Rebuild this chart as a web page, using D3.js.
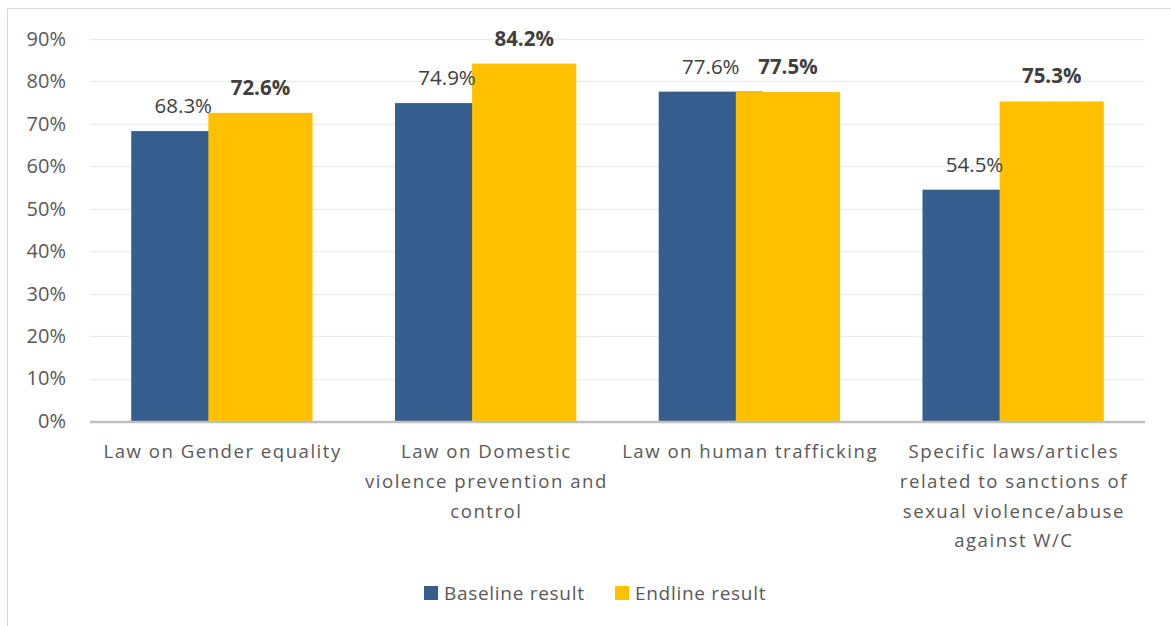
<!DOCTYPE html>
<html>
<head>
<meta charset="utf-8">
<script src="https://cdn.jsdelivr.net/npm/d3@7"></script>
<style>
  html, body { margin: 0; padding: 0; background: #fff; }
  svg { display: block; font-family: "Open Sans", sans-serif; }
</style>
</head>
<body>
<svg id="chart" width="1171" height="626"></svg>
<script>
// Survey results: share of respondents aware of each law
const categories = [
  ["Law on Gender equality"],
  ["Law on Domestic", "violence prevention and", "control"],
  ["Law on human trafficking"],
  ["Specific laws/articles", "related to sanctions of", "sexual violence/abuse", "against W/C"]
];
const seriesNames = ["Baseline result", "Endline result"];
const baseline = [68.3, 74.9, 77.6, 54.5];
const endline = [72.6, 84.2, 77.5, 75.3];
const yTicks = [0, 10, 20, 30, 40, 50, 60, 70, 80, 90];
const colors = ["#355E8E", "#FFC000"];

const svg = d3.select("#chart");
const margin = { left: 90, right: 26, top: 39, bottom: 205 };
const W = 1171, H = 626;

// chart frame
svg.append("path")
  .attr("d", `M7.5,${H} V8.5 H${W}`)
  .attr("fill", "none").attr("stroke", "#d9d9d9").attr("stroke-width", 1);

const x = d3.scaleBand()
  .domain(d3.range(categories.length))
  .range([margin.left, W - margin.right])
  .paddingInner(0).paddingOuter(0);

const y = d3.scaleLinear().domain([0, 90]).range([H - margin.bottom, margin.top]);

// gridlines
svg.append("g").selectAll("line").data(yTicks.filter(d => d > 0)).join("line")
  .attr("x1", margin.left).attr("x2", W - margin.right)
  .attr("y1", d => Math.round(y(d)) + 0.5).attr("y2", d => Math.round(y(d)) + 0.5)
  .attr("stroke", "#ededed").attr("stroke-width", 1.5);

// y axis labels
const yAxis = d3.axisLeft(y).tickValues(yTicks).tickFormat(d => d + "%").tickSize(0).tickPadding(24);
const gy = svg.append("g").attr("transform", `translate(${margin.left},0)`).call(yAxis);
gy.select(".domain").remove();
gy.selectAll("text").attr("fill", "#595959").attr("font-size", 20)
  .attr("font-family", "'Open Sans', sans-serif");

// bar geometry: two series with overlap
const bw = x.bandwidth() * 0.395;
const overlap = bw * 0.26;
const pairW = 2 * bw - overlap;
const barX = (i, s) => x(i) + (x.bandwidth() - pairW) / 2 + s * (bw - overlap);

const values = [baseline, endline];
values.forEach((vals, s) => {
  svg.append("g").selectAll("rect").data(vals).join("rect")
    .attr("x", (d, i) => barX(i, s))
    .attr("width", bw)
    .attr("y", d => y(d))
    .attr("height", d => y(0) - y(d))
    .attr("fill", colors[s]);
});

// value labels
values.forEach((vals, s) => {
  svg.append("g").selectAll("text").data(vals).join("text")
    .attr("x", (d, i) => barX(i, s) + bw / 2)
    .attr("y", d => y(d) - 18)
    .attr("text-anchor", "middle")
    .attr("font-size", 20.5)
    .attr("font-weight", s === 1 ? "bold" : "normal")
    .attr("fill", "#404040")
    .text(d => d.toFixed(1) + "%");
});

// baseline axis line
svg.append("line")
  .attr("x1", margin.left).attr("x2", W - margin.right)
  .attr("y1", y(0) + 1).attr("y2", y(0) + 1)
  .attr("stroke", "#bfbfbf").attr("stroke-width", 2.5);

// category labels
const catSpacing = 1.5;
const cat = svg.append("g").selectAll("text").data(categories).join("text")
  .attr("x", (d, i) => x(i) + x.bandwidth() / 2 + catSpacing / 2)
  .attr("y", y(0) + 37)
  .attr("text-anchor", "middle")
  .attr("font-size", 18.6)
  .attr("letter-spacing", catSpacing)
  .attr("fill", "#595959");
cat.selectAll("tspan").data(d => d).join("tspan")
  .attr("x", function () { return d3.select(this.parentNode).attr("x"); })
  .attr("dy", (d, j) => j === 0 ? 0 : 29.8)
  .text(d => d);

// legend
const legendX = [424, 615];
const lg = svg.append("g").selectAll("g").data(seriesNames).join("g")
  .attr("transform", (d, i) => `translate(${legendX[i]},586)`);
lg.append("rect").attr("width", 14).attr("height", 14).attr("fill", (d, i) => colors[i]);
lg.append("text").attr("x", 20).attr("y", 14).attr("font-size", 19)
  .attr("letter-spacing", 0.7).attr("fill", "#595959").text(d => d);
</script>
</body>
</html>
